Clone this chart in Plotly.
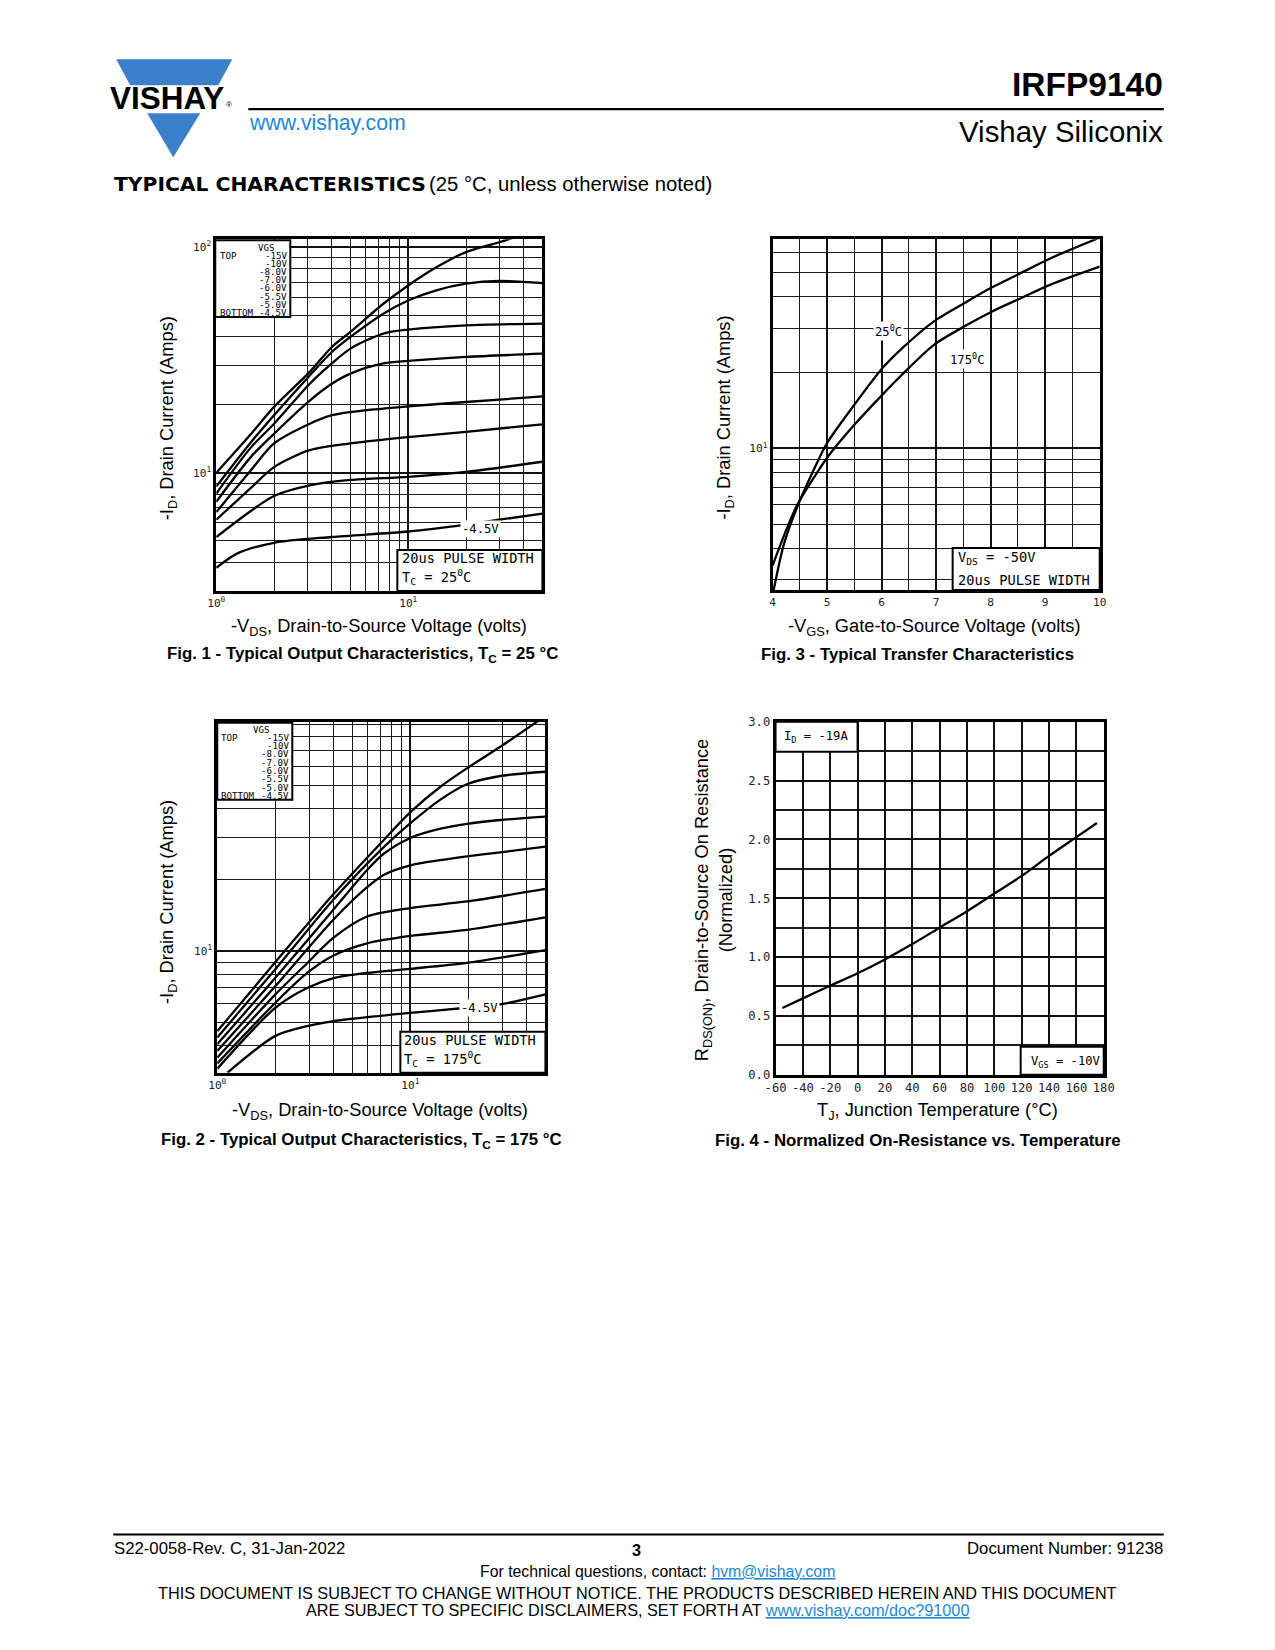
import numpy as np
import plotly.graph_objects as go

PAGE_W, PAGE_H = 1275, 1650
BODY_MARGIN = 8  # default browser body margin
W, H = PAGE_W - 2 * BODY_MARGIN, PAGE_H - 2 * BODY_MARGIN
# measured capture mapping (page px -> picture px): pic = S * page + O
SX, OX = 0.982, 11.0
SY, OY = 0.992, 6.8
FS = 1.015  # font compensation

# ======================= DATA =======================
f1_vgs_labels = ["-15V", "-10V", "-8.0V", "-7.0V", "-6.0V", "-5.5V", "-5.0V", "-4.5V"]
f1_vds_15 = [1, 1.52, 2, 3.07, 4, 5, 7.42, 10, 14, 20, 29.8, 40]
f1_id_15 = [10.0, 14.9, 19.6, 28.0, 36.1, 42.1, 56.1, 67.6, 81.3, 95, 105, 114]
f1_vds_10 = [1, 1.52, 2, 3.07, 4, 5, 7.42, 10, 14, 20, 29.8, 50]
f1_id_10 = [8.7, 13.7, 18.0, 27.0, 34.3, 40.0, 50.7, 58.0, 64.3, 68.8, 70.8, 69.2]
f1_vds_8 = [1, 1.52, 2, 3.07, 4, 5, 7.42, 10, 20, 50]
f1_id_8 = [8.1, 13.0, 16.5, 24.8, 30.5, 35.5, 41.4, 43.1, 45.0, 45.8]
f1_vds_7 = [1, 1.52, 2, 3.07, 4, 5, 7.42, 10, 20, 50]
f1_id_7 = [7.45, 11.8, 14.9, 20.9, 24.8, 27.5, 30.5, 31.3, 32.6, 33.7]
f1_vds_6 = [1, 1.52, 2, 3.07, 4, 5, 10, 20, 50]
f1_id_6 = [6.7, 10.3, 13.5, 16.5, 18.0, 18.6, 19.7, 20.6, 21.8]
f1_vds_55 = [1, 1.52, 2, 3.07, 5, 10, 20, 50]
f1_id_55 = [6.2, 8.6, 10.6, 12.6, 13.5, 14.4, 15.2, 16.4]
f1_vds_5 = [1, 1.52, 2, 3.07, 5, 10, 20, 50]
f1_id_5 = [5.2, 6.8, 7.9, 8.8, 9.3, 9.6, 10.1, 11.2]
f1_vds_45 = [1, 1.29, 2, 4, 10, 20, 29.8, 50]
f1_id_45 = [3.8, 4.4, 4.9, 5.2, 5.5, 5.9, 6.2, 6.6]

f2_vds_15 = [1, 2, 4, 7.3, 10, 14.3, 19.6, 29.2, 50]
f2_id_15 = [4.6, 9.0, 17.4, 29.5, 38.5, 49.3, 58.9, 72.6, 98]
f2_vds_10 = [1, 2, 4, 7.3, 10, 14.3, 19.6, 29.2, 50]
f2_id_10 = [4.33, 8.4, 16.5, 27.5, 34.6, 43.5, 50.5, 54.7, 57.0]
f2_vds_8 = [1, 2, 4, 5.97, 7.3, 10, 14.3, 19.6, 29.2, 50]
f2_id_8 = [4.06, 7.73, 15.0, 22.0, 25.8, 30.0, 32.8, 34.4, 35.7, 36.9]
f2_vds_7 = [1, 2, 4, 5.97, 7.3, 10, 14.3, 19.6, 29.2, 50]
f2_id_7 = [3.8, 7.13, 13.6, 18.6, 21.0, 23.0, 24.2, 25.1, 26.1, 27.6]
f2_vds_6 = [1, 2, 2.92, 4, 5.97, 10, 19.6, 50]
f2_id_6 = [3.56, 6.58, 8.9, 11.4, 14.0, 15.2, 16.2, 18.3]
f2_vds_55 = [1, 2, 2.92, 4, 5.97, 10, 19.6, 50]
f2_id_55 = [3.37, 6.07, 8.1, 9.6, 10.8, 11.6, 12.3, 13.9]
f2_vds_5 = [1, 2, 2.92, 4, 5.97, 10, 19.6, 50]
f2_id_5 = [3.2, 5.78, 7.0, 7.7, 8.1, 8.43, 8.93, 10.1]
f2_vds_45 = [1.13, 2, 2.92, 4, 10, 19.6, 29.2, 50]
f2_id_45 = [3.08, 4.4, 4.84, 5.08, 5.5, 5.78, 5.97, 6.58]

f3_vgs_25 = [4.02, 4.21, 4.46, 4.76, 5.0, 5.5, 6.02, 6.35, 6.96, 7.57, 8.0, 8.49, 9.1, 10.0]
f3_id_25 = [2.73, 4.17, 5.9, 8.26, 10.5, 14.9, 20.9, 24.7, 32.0, 38.4, 43.4, 49.0, 57.0, 68.9]
f3_vgs_175 = [4.0, 4.27, 4.46, 4.76, 5.0, 5.5, 6.02, 6.35, 6.96, 7.57, 8.0, 8.49, 9.1, 10.0]
f3_id_175 = [3.42, 4.85, 6.0, 7.66, 9.18, 12.4, 16.4, 19.4, 25.8, 31.0, 34.8, 39.0, 44.8, 52.8]

f4_tj = [-55, -40, -20, 0, 20, 40, 60, 80, 100, 120, 140, 160, 175]
f4_rds = [0.567, 0.649, 0.756, 0.862, 0.98, 1.11, 1.25, 1.39, 1.54, 1.69, 1.86, 2.02, 2.14]

logdec_x_ticks = [1, 10]
logdec_x_text = ["10<sup>0</sup>", "10<sup>1</sup>"]
log_x_minor = [2, 3, 4, 5, 6, 7, 8, 9, 20, 30, 40]
f1_y_ticks = [10, 100]
f1_y_text = ["10<sup>1</sup>", "10<sup>2</sup>"]
log_y_minor = [3, 4, 5, 6, 7, 8, 9, 20, 30, 40, 50, 60, 70, 80, 90]
f3_x_ticks = [4, 5, 6, 7, 8, 9, 10]
f3_x_minor = [4.5, 5.5, 6.5, 7.5, 8.5, 9.5]
f4_x_ticks = [-60, -40, -20, 0, 20, 40, 60, 80, 100, 120, 140, 160, 180]
f4_y_ticks = [0.0, 0.5, 1.0, 1.5, 2.0, 2.5, 3.0]
f4_y_minor = [0.25, 0.75, 1.25, 1.75, 2.25, 2.75]

# ======================= HELPERS =======================
def PX(x):
    page = (x - OX) / SX
    return (page - BODY_MARGIN) / W

def PY(y):
    page = (y - OY) / SY
    return 1 - (page - BODY_MARGIN) / H

def dom(x0, y0, x1, y1):
    return [PX(x0), PX(x1)], [PY(y1), PY(y0)]

BLUE_LOGO = "#3b80c8"
BLUE_LINK = "#1e88d4"
MONO = "DejaVu Sans Mono"
SANS = "Liberation Sans"

def axis(domain, anchor, **kw):
    d = dict(domain=domain, anchor=anchor, showline=True, mirror=True,
             linecolor="black", linewidth=2.7, showgrid=True,
             gridcolor="#111111", gridwidth=2.2, zeroline=False, ticks="",
             tickfont=dict(family=MONO, size=11 * FS, color="#222"), fixedrange=True)
    d.update(kw)
    return d

def minor(vals, w=1.3):
    return dict(tickvals=vals, showgrid=True, gridcolor="#1a1a1a", gridwidth=w, ticks="")

fig = go.Figure()
line_style = dict(color="black", width=2.3, shape="spline", smoothing=0.8)

f1_curves = [(f1_vds_15, f1_id_15), (f1_vds_10, f1_id_10), (f1_vds_8, f1_id_8),
             (f1_vds_7, f1_id_7), (f1_vds_6, f1_id_6), (f1_vds_55, f1_id_55),
             (f1_vds_5, f1_id_5), (f1_vds_45, f1_id_45)]
for (vx, iy), nm in zip(f1_curves, f1_vgs_labels):
    fig.add_trace(go.Scatter(x=vx, y=iy, mode="lines", line=line_style, name=nm,
                             xaxis="x", yaxis="y", hoverinfo="skip"))

f2_curves = [(f2_vds_15, f2_id_15), (f2_vds_10, f2_id_10), (f2_vds_8, f2_id_8),
             (f2_vds_7, f2_id_7), (f2_vds_6, f2_id_6), (f2_vds_55, f2_id_55),
             (f2_vds_5, f2_id_5), (f2_vds_45, f2_id_45)]
for (vx, iy), nm in zip(f2_curves, f1_vgs_labels):
    fig.add_trace(go.Scatter(x=vx, y=iy, mode="lines", line=line_style, name=nm,
                             xaxis="x3", yaxis="y3", hoverinfo="skip"))

fig.add_trace(go.Scatter(x=f3_vgs_25, y=f3_id_25, mode="lines", line=line_style,
                         xaxis="x2", yaxis="y2", hoverinfo="skip"))
fig.add_trace(go.Scatter(x=f3_vgs_175, y=f3_id_175, mode="lines", line=line_style,
                         xaxis="x2", yaxis="y2", hoverinfo="skip"))
fig.add_trace(go.Scatter(x=f4_tj, y=f4_rds, mode="lines", line=line_style,
                         xaxis="x4", yaxis="y4", hoverinfo="skip"))

d1x, d1y = dom(216, 239, 542, 591)
d3x, d3y = dom(772, 239, 1099, 590)
d2x, d2y = dom(217, 722, 545, 1073)
d4x, d4y = dom(775, 722, 1103, 1075)

layout = dict(
    width=W, height=H, margin=dict(l=0, r=0, t=0, b=0),
    paper_bgcolor="white", plot_bgcolor="white", showlegend=False,
    font=dict(family=SANS, color="black"),
    xaxis=axis(d1x, "y", type="log", range=[0, np.log10(50)], tickvals=logdec_x_ticks,
               ticktext=logdec_x_text, minor=minor(log_x_minor)),
    yaxis=axis(d1y, "x", type="log", range=[np.log10(3), 2.035], tickvals=f1_y_ticks,
               ticktext=f1_y_text, minor=minor(log_y_minor)),
    xaxis2=axis(d3x, "y2", range=[4, 10], tickvals=f3_x_ticks,
                ticktext=[str(v) for v in f3_x_ticks], minor=minor(f3_x_minor)),
    yaxis2=axis(d3y, "x2", type="log", range=[0.437, 1.832], tickvals=[10],
                ticktext=["10<sup>1</sup>"], minor=minor(log_y_minor)),
    xaxis3=axis(d2x, "y3", type="log", range=[0, np.log10(50)], tickvals=logdec_x_ticks,
                ticktext=logdec_x_text, minor=minor(log_x_minor)),
    yaxis3=axis(d2y, "x3", type="log", range=[np.log10(3.08), 1.966], tickvals=[10],
                ticktext=["10<sup>1</sup>"], minor=minor(log_y_minor)),
    xaxis4=axis(d4x, "y4", range=[-60, 180], tickvals=f4_x_ticks,
                ticktext=[str(v) for v in f4_x_ticks], gridwidth=2,
                tickfont=dict(family=MONO, size=12 * FS, color="#222")),
    yaxis4=axis(d4y, "x4", range=[0, 3], tickvals=f4_y_ticks,
                ticktext=["%.1f" % v for v in f4_y_ticks], gridwidth=2,
                minor=minor(f4_y_minor, 2),
                tickfont=dict(family=MONO, size=12 * FS, color="#222")),
)
fig.update_layout(**layout)

shapes = []
ann = []

def rect(x0, y0, x1, y1, lw=2, fill="white", color="black"):
    shapes.append(dict(type="rect", xref="paper", yref="paper", x0=PX(x0), x1=PX(x1),
                       y0=PY(y1), y1=PY(y0), fillcolor=fill,
                       line=dict(color=color, width=lw), layer="above"))

def hline(x0, x1, y, lw=2, color="black"):
    shapes.append(dict(type="line", xref="paper", yref="paper", x0=PX(x0), x1=PX(x1),
                       y0=PY(y), y1=PY(y), line=dict(color=color, width=lw), layer="above"))

def poly(pts, color):
    path = "M " + " L ".join("%.5f,%.5f" % (PX(x), PY(y)) for x, y in pts) + " Z"
    shapes.append(dict(type="path", xref="paper", yref="paper", path=path,
                       fillcolor=color, line=dict(width=0), layer="above"))

def text(x, y, s, size=14, family=SANS, color="black", xa="center", ya="middle",
         angle=0, bg=None, pad=0):
    a = dict(x=PX(x), y=PY(y), xref="paper", yref="paper", text=s, showarrow=False,
             xanchor=xa, yanchor=ya, textangle=angle,
             font=dict(size=size * FS, family=family, color=color), borderpad=pad)
    if bg:
        a["bgcolor"] = bg
    ann.append(a)

# ---------------- header ----------------
poly([(116, 59), (232, 59), (218, 85), (130, 85)], BLUE_LOGO)
poly([(147, 113), (200, 113), (173, 157)], BLUE_LOGO)
text(167, 98, "<b>VISHAY</b>", size=31, family=SANS, color="black")
text(229, 104, "®", size=8, family=SANS)
hline(248, 1163, 109, lw=2.2)
text(248, 123, "www.vishay.com", size=21, color=BLUE_LINK, xa="left")
text(1163, 84, "<b>IRFP9140</b>", size=33, xa="right")
text(1163, 131, "Vishay Siliconix", size=29, xa="right")
text(113, 184, "<b>TYPICAL CHARACTERISTICS</b>", size=20, family="DejaVu Sans", xa="left")
text(428, 184, "(25 °C, unless otherwise noted)", size=20, xa="left")

# ---------------- Fig 1 decorations ----------------
rect(215, 240, 290, 317)
text(266, 247.5, "VGS", size=9, family=MONO)
for i, lab in enumerate(f1_vgs_labels):
    text(288, 255.5 + 8.2 * i, lab, size=9, family=MONO, xa="right")
text(219, 255.5, "TOP", size=9, family=MONO, xa="left")
text(219, 313, "BOTTOM", size=9, family=MONO, xa="left")
text(480, 529, "-4.5V", size=12, family=MONO, bg="white", pad=1)
rect(397, 550, 542, 591)
text(401, 558, "20us PULSE WIDTH", size=13.5, family=MONO, xa="left")
text(401, 577, "T<sub>C</sub> = 25<sup>0</sup>C", size=13.5, family=MONO, xa="left")
text(168, 418, "-I<sub>D</sub>, Drain Current (Amps)", size=18, angle=-90)
text(379, 627, "-V<sub>DS</sub>, Drain-to-Source Voltage (volts)", size=18)
text(362, 655, "<b>Fig. 1 - Typical Output Characteristics, T<sub>C</sub> = 25 °C</b>", size=16.6)

# ---------------- Fig 2 decorations ----------------
rect(217, 723, 292, 800)
text(261, 730, "VGS", size=9, family=MONO)
for i, lab in enumerate(f1_vgs_labels):
    text(290, 738 + 8.3 * i, lab, size=9, family=MONO, xa="right")
text(220, 738, "TOP", size=9, family=MONO, xa="left")
text(220, 796, "BOTTOM", size=9, family=MONO, xa="left")
text(479, 1008, "-4.5V", size=12, family=MONO, bg="white", pad=1)
rect(400, 1032, 545, 1073)
text(403, 1040, "20us PULSE WIDTH", size=13.5, family=MONO, xa="left")
text(403, 1059, "T<sub>C</sub> = 175<sup>0</sup>C", size=13.5, family=MONO, xa="left")
text(168, 902, "-I<sub>D</sub>, Drain Current (Amps)", size=18, angle=-90)
text(380, 1111, "-V<sub>DS</sub>, Drain-to-Source Voltage (volts)", size=18)
text(361, 1141, "<b>Fig. 2 - Typical Output Characteristics, T<sub>C</sub> = 175 °C</b>", size=16.6)

# ---------------- Fig 3 decorations ----------------
text(888, 331, "25<sup>0</sup>C", size=12, family=MONO, bg="white", pad=1)
text(966, 359, "175<sup>0</sup>C", size=12, family=MONO, bg="white", pad=1)
rect(952, 548, 1099, 590)
text(956, 558, "V<sub>DS</sub> = -50V", size=13.5, family=MONO, xa="left")
text(956, 580, "20us PULSE WIDTH", size=13.5, family=MONO, xa="left")
text(725, 418, "-I<sub>D</sub>, Drain Current (Amps)", size=18, angle=-90)
text(934, 627, "-V<sub>GS</sub>, Gate-to-Source Voltage (volts)", size=18)
text(917, 655, "<b>Fig. 3 - Typical Transfer Characteristics</b>", size=16.6)

# ---------------- Fig 4 decorations ----------------
rect(775, 722, 857, 752)
text(782, 737, "I<sub>D</sub> = -19A", size=12, family=MONO, xa="left")
rect(1020, 1047, 1103, 1075)
text(1100, 1062, "V<sub>GS</sub> = -10V", size=12, family=MONO, xa="right")
text(702, 900, "R<sub>DS(ON)</sub>, Drain-to-Source On Resistance", size=18, angle=-90)
text(725, 900, "(Normalized)", size=18, angle=-90)
text(937, 1111, "T<sub>J</sub>, Junction Temperature (°C)", size=18)
text(917, 1141, "<b>Fig. 4 - Normalized On-Resistance vs. Temperature</b>", size=16.6)

# ---------------- footer ----------------
hline(113, 1163, 1535, lw=2)
text(113, 1549, "S22-0058-Rev. C, 31-Jan-2022", size=16.5, xa="left")
text(636, 1551, "<b>3</b>", size=16)
text(1163, 1549, "Document Number: 91238", size=16.5, xa="right")
text(479, 1572, "For technical questions, contact: "
     "<span style='color:%s;text-decoration:underline'>hvm@vishay.com</span>" % BLUE_LINK,
     size=15.6, xa="left")
text(637, 1594, "THIS DOCUMENT IS SUBJECT TO CHANGE WITHOUT NOTICE. THE PRODUCTS DESCRIBED HEREIN AND THIS DOCUMENT",
     size=16)
text(637, 1611, "ARE SUBJECT TO SPECIFIC DISCLAIMERS, SET FORTH AT "
     "<span style='color:%s;text-decoration:underline'>www.vishay.com/doc?91000</span>" % BLUE_LINK,
     size=16)

fig.update_layout(shapes=shapes, annotations=ann)
fig.write_html("out.html", config={"displayModeBar": False})
